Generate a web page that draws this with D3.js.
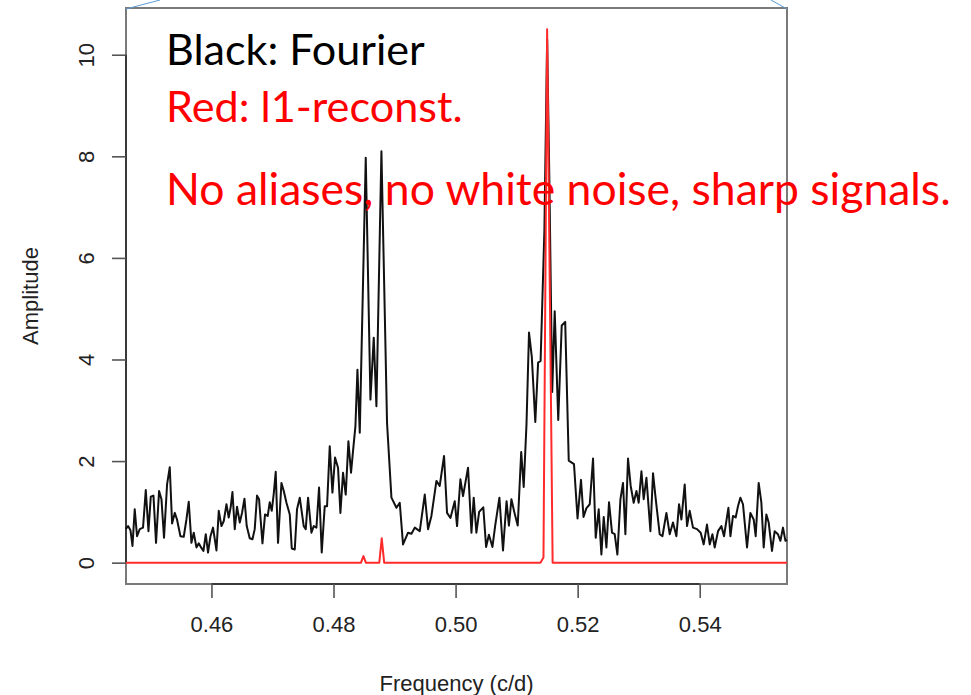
<!DOCTYPE html>
<html>
<head>
<meta charset="utf-8">
<script src="https://cdn.jsdelivr.net/npm/d3@7"></script>
<style>
  html, body { margin: 0; padding: 0; background: #fff; }
  svg { display: block; }
</style>
</head>
<body>
<svg id="chart"></svg>
<script>
// Fourier amplitude spectrum (black), vertices
const fourierFreq = [
  0.44596, 0.44634, 0.44673, 0.44706, 0.44743, 0.44781, 0.44825, 0.44879, 0.44924, 0.44968,
  0.45006, 0.45050, 0.45092, 0.45142, 0.45181, 0.45223, 0.45273, 0.45317, 0.45355, 0.45399,
  0.45436, 0.45492, 0.45546, 0.45590, 0.45628, 0.45672, 0.45710, 0.45754, 0.45792, 0.45830,
  0.45869, 0.45907, 0.45944, 0.45984, 0.46026, 0.46082, 0.46120, 0.46164, 0.46202, 0.46246,
  0.46283, 0.46316, 0.46344, 0.46382, 0.46419, 0.46464, 0.46501, 0.46541, 0.46578, 0.46627,
  0.46672, 0.46709, 0.46747, 0.46780, 0.46836, 0.46878, 0.46922, 0.46955, 0.46988, 0.47021,
  0.47053, 0.47091, 0.47147, 0.47185, 0.47229, 0.47283, 0.47316, 0.47365, 0.47402, 0.47447,
  0.47512, 0.47545, 0.47583, 0.47638, 0.47676, 0.47720, 0.47763, 0.47807, 0.47856, 0.47894,
  0.47938, 0.47982, 0.48025, 0.48074, 0.48113, 0.48156, 0.48200, 0.48244, 0.48287, 0.48320,
  0.48359, 0.48392, 0.48430, 0.48528, 0.48605, 0.48659, 0.48703, 0.48785, 0.48877, 0.48949,
  0.49031, 0.49085, 0.49139, 0.49221, 0.49277, 0.49331, 0.49413, 0.49495, 0.49549, 0.49604,
  0.49686, 0.49740, 0.49811, 0.49860, 0.49916, 0.49986, 0.50024, 0.50079, 0.50122, 0.50204,
  0.50260, 0.50297, 0.50341, 0.50386, 0.50454, 0.50500, 0.50546, 0.50604, 0.50649, 0.50718,
  0.50777, 0.50835, 0.50874, 0.50915, 0.50961, 0.51018, 0.51075, 0.51116, 0.51162, 0.51203,
  0.51249, 0.51306, 0.51352, 0.51393, 0.51455, 0.51500, 0.51536, 0.51583, 0.51624, 0.51682,
  0.51739, 0.51796, 0.51854, 0.51940, 0.51998, 0.52055, 0.52096, 0.52142, 0.52198, 0.52252,
  0.52296, 0.52345, 0.52389, 0.52427, 0.52471, 0.52514, 0.52563, 0.52607, 0.52651, 0.52701,
  0.52743, 0.52782, 0.52825, 0.52869, 0.52918, 0.52963, 0.53000, 0.53045, 0.53082, 0.53127,
  0.53192, 0.53235, 0.53274, 0.53344, 0.53389, 0.53454, 0.53508, 0.53562, 0.53618, 0.53661,
  0.53700, 0.53754, 0.53792, 0.53836, 0.53890, 0.53956, 0.54016, 0.54065, 0.54119, 0.54164,
  0.54208, 0.54245, 0.54300, 0.54355, 0.54398, 0.54470, 0.54503, 0.54545, 0.54589, 0.54627,
  0.54666, 0.54709, 0.54775, 0.54830, 0.54884, 0.54917, 0.54966, 0.55010, 0.55048, 0.55092,
  0.55130, 0.55184, 0.55228, 0.55282, 0.55322, 0.55364, 0.55404, 0.55430
];
const fourierAmp = [
  0.66, 0.72, 0.64, 0.33, 1.05, 0.52, 0.66, 0.69, 1.43, 0.62,
  1.30, 1.32, 0.39, 1.41, 1.25, 0.49, 1.54, 1.88, 0.77, 0.98,
  0.85, 0.52, 0.51, 0.85, 1.20, 0.39, 0.59, 0.30, 0.38, 0.30,
  0.23, 0.56, 0.20, 0.52, 0.69, 0.24, 1.02, 0.72, 0.82, 1.15,
  0.89, 1.10, 1.39, 0.66, 1.10, 0.79, 0.98, 1.26, 0.72, 0.48,
  0.46, 0.66, 1.32, 1.25, 0.38, 0.95, 0.92, 1.19, 1.02, 1.36,
  1.79, 0.39, 1.57, 1.41, 1.18, 0.95, 0.28, 0.26, 1.05, 1.28,
  0.72, 0.66, 1.28, 0.59, 0.72, 0.69, 1.48, 0.20, 1.11, 1.11,
  2.29, 1.38, 2.07, 1.87, 0.98, 1.77, 1.34, 2.39, 1.77, 2.20,
  2.69, 3.80, 2.56, 7.97, 3.21, 4.43, 3.08, 8.10, 2.75, 1.28,
  1.08, 1.18, 0.36, 0.59, 0.57, 0.69, 0.62, 1.34, 0.66, 0.92,
  1.61, 1.51, 2.10, 0.98, 0.88, 1.21, 0.72, 1.64, 1.31, 1.87,
  0.59, 1.28, 0.59, 1.00, 1.09, 0.31, 0.55, 0.31, 0.73, 1.28,
  0.24, 1.21, 0.73, 1.25, 1.00, 0.73, 2.18, 1.49, 2.73, 4.53,
  4.05, 2.77, 3.94, 3.97, 6.54, 10.30, 7.57, 3.36, 4.95, 2.81,
  4.67, 4.74, 2.01, 1.94, 0.87, 1.63, 0.90, 1.07, 1.15, 2.05,
  0.49, 1.05, 0.16, 0.90, 0.30, 1.19, 0.59, 0.56, 0.16, 1.25,
  1.57, 0.56, 2.05, 1.51, 1.18, 1.41, 1.18, 1.80, 1.25, 1.67,
  0.62, 1.76, 1.31, 0.56, 0.52, 0.98, 0.56, 0.79, 0.52, 1.15,
  0.85, 1.54, 0.72, 1.02, 0.69, 0.66, 0.59, 0.36, 0.75, 0.36,
  0.56, 0.30, 0.62, 0.72, 0.52, 1.08, 0.52, 0.92, 0.89, 1.11,
  1.28, 1.15, 0.30, 0.98, 0.85, 0.52, 1.57, 1.18, 0.30, 0.95,
  0.79, 0.23, 0.62, 0.56, 0.43, 0.69, 0.43, 0.45
];

// l1 reconstruction (red)
const l1Freq = [0.4460, 0.4845, 0.4849, 0.4853, 0.4875, 0.4879, 0.4883, 0.5139, 0.5144, 0.5150, 0.5159, 0.5543];
const l1Amp  = [0,      0,      0.13,   0,      0,      0.48,   0,      0,      0.10,   10.50,  0,      0];

const xTicks = [0.46, 0.48, 0.50, 0.52, 0.54];
const yTicks = [0, 2, 4, 6, 8, 10];

const notes = [
  { text: "Black: Fourier", color: "#000000" },
  { text: "Red: l1-reconst.", color: "#ff0000" },
  { text: "No aliases, no white noise, sharp signals.", color: "#ff0000" }
];

const width = 971;
const height = 695;
const plot = { left: 126, right: 787, top: 8, bottom: 584 };

const svg = d3.select("#chart")
  .attr("width", width)
  .attr("height", height);

const x = d3.scaleLinear()
  .domain([0.446, 0.5543])
  .range([plot.left, plot.right]);

const y = d3.scaleLinear()
  .domain([-0.42, 10.92])
  .range([plot.bottom, plot.top]);

const axisFont = "'Liberation Sans', Arial, Helvetica, sans-serif";

// box round the plot region
svg.append("rect")
  .attr("x", plot.left)
  .attr("y", plot.top)
  .attr("width", plot.right - plot.left)
  .attr("height", plot.bottom - plot.top)
  .attr("fill", "none")
  .attr("stroke", "#7a7a7a")
  .attr("stroke-width", 2);

// slide connector lines at the top corners
svg.append("line")
  .attr("x1", plot.left).attr("y1", plot.top + 1)
  .attr("x2", 160).attr("y2", 0)
  .attr("stroke", "#5b9bd5").attr("stroke-width", 1);
svg.append("line")
  .attr("x1", plot.right).attr("y1", plot.top + 1)
  .attr("x2", 771).attr("y2", 0)
  .attr("stroke", "#5b9bd5").attr("stroke-width", 1);

// x axis (R style: line from first to last tick)
const xAxis = svg.append("g")
  .attr("transform", `translate(0,${plot.bottom})`)
  .call(d3.axisBottom(x)
    .tickValues(xTicks)
    .tickFormat(d3.format(".2f"))
    .tickSize(14)
    .tickPadding(18)
    .tickSizeOuter(0));
xAxis.select(".domain")
  .attr("d", `M${x(xTicks[0])},0H${x(xTicks[xTicks.length - 1])}`)
  .attr("stroke", "#3a3a3a")
  .attr("stroke-width", 2);
xAxis.selectAll(".tick line").attr("stroke", "#555").attr("stroke-width", 1.6);
xAxis.selectAll(".tick text")
  .attr("fill", "#222")
  .style("font-family", axisFont)
  .style("font-size", "22px");

// y axis, labels turned like R's default
const yAxis = svg.append("g")
  .attr("transform", `translate(${plot.left},0)`)
  .call(d3.axisLeft(y)
    .tickValues(yTicks)
    .tickSize(14)
    .tickSizeOuter(0));
yAxis.select(".domain")
  .attr("d", `M0,${y(yTicks[0])}V${y(yTicks[yTicks.length - 1])}`)
  .attr("stroke", "#3a3a3a")
  .attr("stroke-width", 2);
yAxis.selectAll(".tick line").attr("stroke", "#555").attr("stroke-width", 1.6);
yAxis.selectAll(".tick text")
  .attr("x", null).attr("dy", null)
  .attr("fill", "#222")
  .attr("text-anchor", "middle")
  .attr("transform", "translate(-32,0) rotate(-90)")
  .style("font-family", axisFont)
  .style("font-size", "22px");

// axis titles
svg.append("text")
  .attr("x", (x(xTicks[0]) + x(xTicks[xTicks.length - 1])) / 2 + 1)
  .attr("y", 691)
  .attr("text-anchor", "middle")
  .attr("fill", "#222")
  .style("font-family", axisFont)
  .style("font-size", "22px")
  .text("Frequency (c/d)");

svg.append("text")
  .attr("transform", `translate(38,${(plot.top + plot.bottom) / 2}) rotate(-90)`)
  .attr("text-anchor", "middle")
  .attr("fill", "#222")
  .style("font-family", axisFont)
  .style("font-size", "22px")
  .text("Amplitude");

// series
const fourier = fourierFreq.map((f, i) => [f, fourierAmp[i]]);
const l1 = l1Freq.map((f, i) => [f, l1Amp[i]]);

const line = d3.line()
  .x(d => x(d[0]))
  .y(d => y(d[1]));

svg.append("path")
  .datum(fourier)
  .attr("fill", "none")
  .attr("stroke", "#111")
  .attr("stroke-width", 2)
  .attr("stroke-linejoin", "round")
  .attr("d", line);

svg.append("path")
  .datum(l1)
  .attr("fill", "none")
  .attr("stroke", "#ff2a2a")
  .attr("stroke-width", 2)
  .attr("stroke-linejoin", "round")
  .attr("d", line);

// slide annotations on top of the plot
const noteFont = "Lato, 'Open Sans', sans-serif";
const noteLayout = [
  { y: 65, size: 40, w: 259 },
  { y: 122, size: 40, w: 297 },
  { y: 205, size: 42, w: 784 }
];
notes.forEach((n, i) => {
  const t = svg.append("text")
    .attr("x", 166)
    .attr("y", noteLayout[i].y)
    .attr("fill", n.color)
    .style("font-family", noteFont)
    .style("font-weight", 400)
    .style("font-size", noteLayout[i].size + "px")
    .text(n.text);
  // fit the measured width to the slide text
  const w = t.node().getComputedTextLength();
  t.style("font-size", (noteLayout[i].size * noteLayout[i].w / w).toFixed(1) + "px");
});
</script>
</body>
</html>
